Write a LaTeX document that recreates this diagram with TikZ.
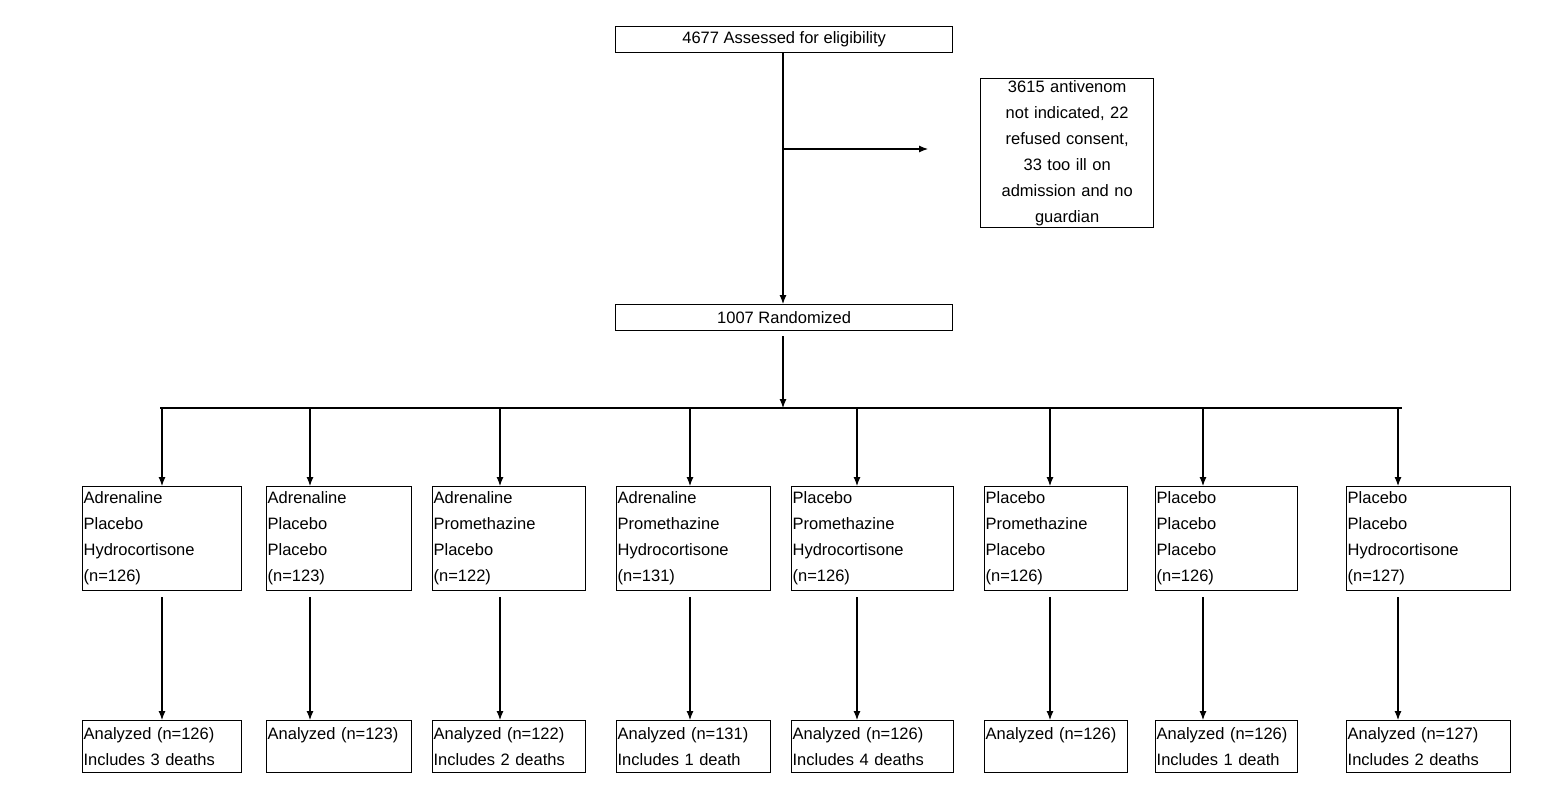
\documentclass[tikz,border=0pt]{standalone}
\usepackage{fontspec}
\setmainfont{Liberation Sans}
\usetikzlibrary{arrows.meta}
\begin{document}
\begin{tikzpicture}[x=1pt,y=-1pt,
  box/.style={draw,line width=1.3pt,inner sep=1pt,anchor=north west,align=left,font=\fontsize{16.5}{26}\selectfont},
  arr/.style={line width=1.1pt,-{Latex[length=9pt,width=7pt]}},
  ln/.style={line width=1.1pt}]
\useasboundingbox (0,0) rectangle (1561,800);
\node[box,align=center,minimum width=337pt,minimum height=26pt] (top) at (615,26) {4677 Assessed for eligibility};
\node[box,align=center,text width=171pt,minimum height=149pt] (side) at (980,78) {3615 antivenom\\not indicated, 22\\refused consent,\\33 too ill on\\admission and no\\guardian};
\node[box,align=center,minimum width=337pt,minimum height=26pt] (rand) at (615,304) {1007 Randomized};
\coordinate (br) at (783,149);
\coordinate (bre) at (928,149);
\draw[arr] (top.south -| br) -- (rand.north -| br);
\draw[ln,-{Latex[length=9pt,width=7pt]}] (br) -- (bre);
\coordinate (hl) at (160,408);
\coordinate (hr) at (1402,408);
\draw[arr] (rand.south -| br) ++(0,5) -- (783,408);
\draw[ln] (hl) -- (hr);
\foreach \i/\xa/\xb/\xc/\t/\b in {
 1/82/241/162/{Adrenaline\\Placebo\\Hydrocortisone\\(n=126)}/{Analyzed (n=126)\\Includes 3 deaths},
 2/266/411/310/{Adrenaline\\Placebo\\Placebo\\(n=123)}/{Analyzed (n=123)\\\mbox{}},
 3/432/585/500/{Adrenaline\\Promethazine\\Placebo\\(n=122)}/{Analyzed (n=122)\\Includes 2 deaths},
 4/616/770/690/{Adrenaline\\Promethazine\\Hydrocortisone\\(n=131)}/{Analyzed (n=131)\\Includes 1 death},
 5/791/953/857/{Placebo\\Promethazine\\Hydrocortisone\\(n=126)}/{Analyzed (n=126)\\Includes 4 deaths},
 6/984/1127/1050/{Placebo\\Promethazine\\Placebo\\(n=126)}/{Analyzed (n=126)\\\mbox{}},
 7/1155/1297/1203/{Placebo\\Placebo\\Placebo\\(n=126)}/{Analyzed (n=126)\\Includes 1 death},
 8/1346/1510/1398/{Placebo\\Placebo\\Hydrocortisone\\(n=127)}/{Analyzed (n=127)\\Includes 2 deaths}} {
  \pgfmathsetmacro\w{\xb-\xa-2}
  \node[box,text width=\w pt,minimum height=104pt] (g\i) at (\xa,486) {\t};
  \node[box,text width=\w pt,minimum height=52pt] (a\i) at (\xa,720) {\b};
  \coordinate (c\i) at (\xc,408);
  \draw[arr] (c\i) -- (g\i.north -| c\i);
  \draw[arr] (g\i.south -| c\i) ++(0,6) -- (a\i.north -| c\i);
}
\end{tikzpicture}
\end{document}
